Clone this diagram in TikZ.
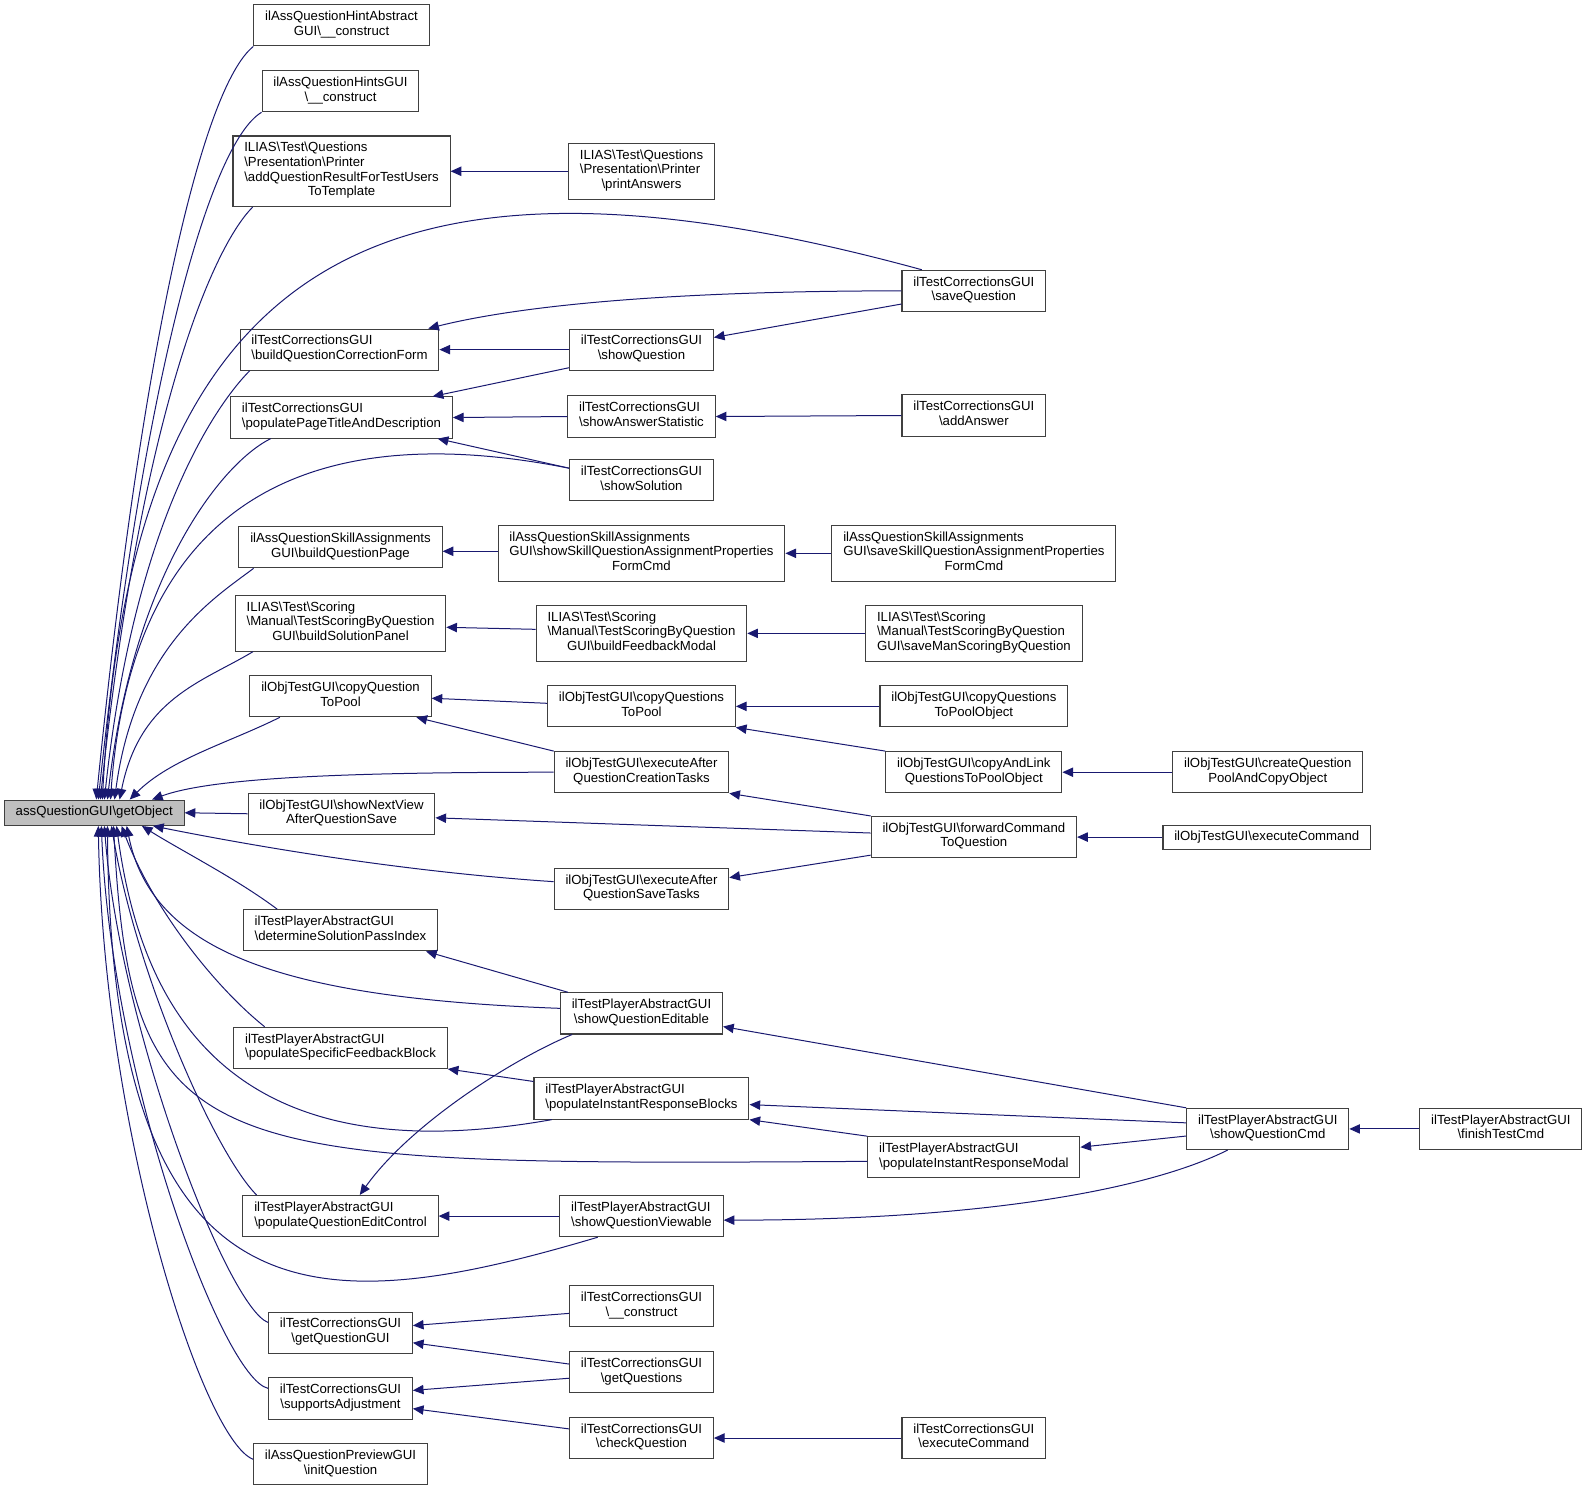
\documentclass[tikz,border=0pt]{standalone}
\usepackage{fontspec}
\setmainfont{Liberation Sans}
\usetikzlibrary{arrows.meta,calc}
\definecolor{edgeblue}{HTML}{191970}
\definecolor{rootgray}{HTML}{BFBFBF}
\newcommand{\bsl}{\textbackslash}
\newcommand{\lastln}[1]{\hspace*{\fill}#1\hspace*{\fill}}

\begin{document}
\begin{tikzpicture}[
  x=0.76pt, y=-0.76pt,
  fn/.style={draw=black!75, line width=0.8pt, fill=white, align=left,
    inner xsep=8.5pt, inner ysep=4.7pt, font=\fontsize{9.9}{11}\selectfont,
    execute at begin node=\strut, execute at end node=\strut},
  cur/.style={fn, fill=rootgray, inner ysep=4pt},
  call/.style={draw=edgeblue, line width=0.75pt, {Triangle[length=8pt,width=7pt]}-},
]
  \useasboundingbox (0,0) rectangle (1568,1471);
  % --- the function whose callers are shown ---
  \node[cur] (getobj) at (93,802) {assQuestionGUI\bsl getObject};
  % --- first column of callers ---
  \node[fn] (hintabs) at (337,25) {ilAssQuestionHintAbstract\\\lastln{GUI\bsl\_\_construct}};
  \node[fn] (hints) at (336,90) {ilAssQuestionHintsGUI\\\lastln{\bsl\_\_construct}};
  \node[fn] (addres) at (337,169) {ILIAS\bsl Test\bsl Questions\\\bsl Presentation\bsl Printer\\\bsl addQuestionResultForTestUsers\\\lastln{ToTemplate}};
  \node[fn] (buildform) at (335,345) {ilTestCorrectionsGUI\\\lastln{\bsl buildQuestionCorrectionForm}};
  \node[fn] (pagetitle) at (337,412) {ilTestCorrectionsGUI\\\lastln{\bsl populatePageTitleAndDescription}};
  \node[fn] (skillpage) at (336,540) {ilAssQuestionSkillAssignments\\\lastln{GUI\bsl buildQuestionPage}};
  \node[fn] (solpanel) at (336,615) {ILIAS\bsl Test\bsl Scoring\\\bsl Manual\bsl TestScoringByQuestion\\\lastln{GUI\bsl buildSolutionPanel}};
  \node[fn] (copyq) at (336,687) {ilObjTestGUI\bsl copyQuestion\\\lastln{ToPool}};
  \node[fn] (nextview) at (337,803) {ilObjTestGUI\bsl showNextView\\\lastln{AfterQuestionSave}};
  \node[fn] (passidx) at (336,918) {ilTestPlayerAbstractGUI\\\lastln{\bsl determineSolutionPassIndex}};
  \node[fn] (specfb) at (336,1034) {ilTestPlayerAbstractGUI\\\lastln{\bsl populateSpecificFeedbackBlock}};
  \node[fn] (editctl) at (336,1200) {ilTestPlayerAbstractGUI\\\lastln{\bsl populateQuestionEditControl}};
  \node[fn] (getqgui) at (336,1315) {ilTestCorrectionsGUI\\\lastln{\bsl getQuestionGUI}};
  \node[fn] (supadj) at (336,1380) {ilTestCorrectionsGUI\\\lastln{\bsl supportsAdjustment}};
  \node[fn] (initq) at (336,1445) {ilAssQuestionPreviewGUI\\\lastln{\bsl initQuestion}};
  % --- second column ---
  \node[fn] (printans) at (633,169) {ILIAS\bsl Test\bsl Questions\\\bsl Presentation\bsl Printer\\\lastln{\bsl printAnswers}};
  \node[fn] (showq) at (633,345) {ilTestCorrectionsGUI\\\lastln{\bsl showQuestion}};
  \node[fn] (ansstat) at (633,411) {ilTestCorrectionsGUI\\\lastln{\bsl showAnswerStatistic}};
  \node[fn] (showsol) at (633,474) {ilTestCorrectionsGUI\\\lastln{\bsl showSolution}};
  \node[fn] (skillprops) at (633,546) {ilAssQuestionSkillAssignments\\GUI\bsl showSkillQuestionAssignmentProperties\\\lastln{FormCmd}};
  \node[fn] (fbmodal) at (633,625) {ILIAS\bsl Test\bsl Scoring\\\bsl Manual\bsl TestScoringByQuestion\\\lastln{GUI\bsl buildFeedbackModal}};
  \node[fn] (copyqs) at (633,697) {ilObjTestGUI\bsl copyQuestions\\\lastln{ToPool}};
  \node[fn] (aftercreate) at (633,762) {ilObjTestGUI\bsl executeAfter\\\lastln{QuestionCreationTasks}};
  \node[fn] (aftersave) at (633,877) {ilObjTestGUI\bsl executeAfter\\\lastln{QuestionSaveTasks}};
  \node[fn] (editable) at (633,1000) {ilTestPlayerAbstractGUI\\\lastln{\bsl showQuestionEditable}};
  \node[fn] (irblocks) at (633,1084) {ilTestPlayerAbstractGUI\\\lastln{\bsl populateInstantResponseBlocks}};
  \node[fn] (viewable) at (633,1200) {ilTestPlayerAbstractGUI\\\lastln{\bsl showQuestionViewable}};
  \node[fn] (corrctor) at (633,1289) {ilTestCorrectionsGUI\\\lastln{\bsl\_\_construct}};
  \node[fn] (getqs) at (633,1354) {ilTestCorrectionsGUI\\\lastln{\bsl getQuestions}};
  \node[fn] (checkq) at (633,1419) {ilTestCorrectionsGUI\\\lastln{\bsl checkQuestion}};
  % --- third column ---
  \node[fn] (saveq) at (961,287) {ilTestCorrectionsGUI\\\lastln{\bsl saveQuestion}};
  \node[fn] (addans) at (961,410) {ilTestCorrectionsGUI\\\lastln{\bsl addAnswer}};
  \node[fn] (saveskill) at (961,546) {ilAssQuestionSkillAssignments\\GUI\bsl saveSkillQuestionAssignmentProperties\\\lastln{FormCmd}};
  \node[fn] (savescore) at (961,625) {ILIAS\bsl Test\bsl Scoring\\\bsl Manual\bsl TestScoringByQuestion\\\lastln{GUI\bsl saveManScoringByQuestion}};
  \node[fn] (copypool) at (961,697) {ilObjTestGUI\bsl copyQuestions\\\lastln{ToPoolObject}};
  \node[fn] (copylink) at (961,762) {ilObjTestGUI\bsl copyAndLink\\\lastln{QuestionsToPoolObject}};
  \node[fn] (fwdcmd) at (961,826) {ilObjTestGUI\bsl forwardCommand\\\lastln{ToQuestion}};
  \node[fn] (irmodal) at (961,1142) {ilTestPlayerAbstractGUI\\\lastln{\bsl populateInstantResponseModal}};
  \node[fn] (corrcmd) at (961,1419) {ilTestCorrectionsGUI\\\lastln{\bsl executeCommand}};
  % --- fourth and fifth column ---
  \node[fn] (createpool) at (1251,762) {ilObjTestGUI\bsl createQuestion\\\lastln{PoolAndCopyObject}};
  \node[fn, inner ysep=3.5pt] (execcmd) at (1250,826) {ilObjTestGUI\bsl executeCommand};
  \node[fn] (showqcmd) at (1251,1114) {ilTestPlayerAbstractGUI\\\lastln{\bsl showQuestionCmd}};
  \node[fn] (finish) at (1481,1114) {ilTestPlayerAbstractGUI\\\lastln{\bsl finishTestCmd}};

  % --- direct callers of getObject, leaving over its top ---
  \draw[call] ($(getobj.north)+(2,0)$) .. controls +(45,-450) and +(-50,40) .. (hintabs.south west);
  \draw[call] ($(getobj.north)+(4,0)$) .. controls +(45,-420) and +(-50,30) .. (hints.south west);
  \draw[call] ($(getobj.north)+(6,0)$) .. controls +(40,-380) and +(-40,40) .. ($(addres.south west)+(20,0)$);
  \draw[call] ($(getobj.north)+(8,0)$) .. controls +(29,-540) and +(-530,-145) .. ($(saveq.north west)+(20,0)$);
  \draw[call] ($(getobj.north)+(10,0)$) .. controls +(30,-280) and +(-30,30) .. ($(buildform.south west)+(10,0)$);
  \draw[call] ($(getobj.north)+(13,0)$) .. controls +(25,-220) and +(-50,25) .. ($(pagetitle.south west)+(40,0)$);
  \draw[call] ($(getobj.north)+(16,0)$) .. controls +(21,-290) and +(-262,-52) .. ($(showsol.west)+(0,-12)$);
  \draw[call] ($(getobj.north)+(20,0)$) .. controls +(20,-150) and +(-40,30) .. ($(skillpage.south west)+(15,0)$);
  \draw[call] ($(getobj.north)+(25,0)$) .. controls +(20,-100) and +(-50,30) .. ($(solpanel.south west)+(18,0)$);
  \draw[call] ($(getobj.north)+(35,0)$) .. controls +(40,-40) and +(-50,25) .. ($(copyq.south west)+(30,0)$);
  \draw[call] ($(getobj.north)+(57,0)$) .. controls +(60,-22) and +(-200,0) .. (aftercreate.west);
  \draw[call] (getobj.east) -- (nextview.west);
  % --- direct callers of getObject, leaving under its bottom ---
  \draw[call] ($(getobj.south)+(58,0)$) .. controls +(100,20) and +(-150,-10) .. ($(aftersave.west)+(0,-7)$);
  \draw[call] ($(getobj.south)+(47,0)$) .. controls +(40,25) and +(-40,-30) .. ($(passidx.north west)+(34,0)$);
  \draw[call] ($(getobj.south)+(32,0)$) .. controls +(25,125) and +(-272,-10) .. ($(editable.west)+(0,-5)$);
  \draw[call] ($(getobj.south)+(27,0)$) .. controls +(30,80) and +(-50,-40) .. ($(specfb.north west)+(31,0)$);
  \draw[call] ($(getobj.south)+(22,0)$) .. controls +(25,185) and +(-315,56) .. ($(irblocks.south west)+(18,0)$);
  \draw[call] ($(getobj.south)+(19,0)$) .. controls +(18,335) and +(-658,4) .. ($(irmodal.west)+(0,4)$);
  \draw[call] ($(getobj.south)+(17,0)$) .. controls +(25,150) and +(-40,-40) .. ($(editctl.north west)+(14,0)$);
  \draw[call] ($(getobj.south)+(13,0)$) .. controls +(4,505) and +(-270,80) .. ($(viewable.south west)+(38,0)$);
  \draw[call] ($(getobj.south)+(10,0)$) .. controls +(15,200) and +(-40,-15) .. ($(getqgui.west)+(0,-10)$);
  \draw[call] ($(getobj.south)+(7,0)$) .. controls +(10,250) and +(-45,-10) .. ($(supadj.west)+(0,-10)$);
  \draw[call] ($(getobj.south)+(4,0)$) .. controls +(5,300) and +(-50,-20) .. ($(initq.west)+(0,-5)$);
  % --- first column <- second column ---
  \draw[call] (addres.east) -- (printans.west);
  \draw[call] (buildform.east) -- (showq.west);
  \draw[call] ($(buildform.north east)+(-11,0)$) .. controls +(80,-20) and +(-250,0) .. (saveq.west);
  \draw[call] ($(pagetitle.north east)+(-20,0)$) -- ($(showq.south west)+(0,-3)$);
  \draw[call] (pagetitle.east) -- (ansstat.west);
  \draw[call] ($(pagetitle.south east)+(-15,0)$) -- ($(showsol.west)+(0,-12)$);
  \draw[call] ($(skillpage.east)+(0,4)$) -- ($(skillprops.west)+(0,-2)$);
  \draw[call] ($(solpanel.east)+(0,4)$) -- ($(fbmodal.west)+(0,-4)$);
  \draw[call] ($(copyq.east)+(0,2)$) -- ($(copyqs.west)+(0,-3)$);
  \draw[call] ($(copyq.south east)+(-15,0)$) -- (aftercreate.north west);
  \draw[call] ($(nextview.east)+(0,4)$) -- ($(fwdcmd.west)+(0,-4)$);
  \draw[call] ($(passidx.south east)+(-12,0)$) -- ($(editable.north west)+(8,0)$);
  \draw[call] (specfb.south east) -- ($(irblocks.north west)+(0,4)$);
  \draw[call] ($(editctl.north)+(19,0)$) .. controls +(50,-70) and +(-60,25) .. ($(editable.south west)+(12,0)$);
  \draw[call] (editctl.east) -- (viewable.west);
  \draw[call] ($(getqgui.east)+(0,-7)$) -- ($(corrctor.west)+(0,7)$);
  \draw[call] ($(getqgui.east)+(0,10)$) -- ($(getqs.west)+(0,-8)$);
  \draw[call] ($(supadj.east)+(0,-8)$) -- ($(getqs.west)+(0,6)$);
  \draw[call] ($(supadj.east)+(0,10)$) -- ($(checkq.west)+(0,-9)$);
  % --- second column <- third column ---
  \draw[call] ($(showq.east)+(0,-12)$) -- ($(saveq.west)+(0,13)$);
  \draw[call] (ansstat.east) -- (addans.west);
  \draw[call] (skillprops.east) -- (saveskill.west);
  \draw[call] (fbmodal.east) -- (savescore.west);
  \draw[call] (copyqs.east) -- (copypool.west);
  \draw[call] (copyqs.south east) -- (copylink.north west);
  \draw[call] (aftercreate.south east) -- (fwdcmd.north west);
  \draw[call] ($(aftersave.east)+(0,-11)$) -- ($(fwdcmd.south west)+(0,-3)$);
  \draw[call] ($(editable.east)+(0,13)$) -- (showqcmd.north west);
  \draw[call] ($(irblocks.east)+(0,6)$) -- ($(showqcmd.west)+(0,-6)$);
  \draw[call] (irblocks.south east) -- (irmodal.north west);
  \draw[call] ($(viewable.east)+(0,4)$) .. controls +(250,0) and +(-80,40) .. ($(showqcmd.south west)+(41,0)$);
  \draw[call] (checkq.east) -- (corrcmd.west);
  % --- third column <- fourth and fifth ---
  \draw[call] (copylink.east) -- (createpool.west);
  \draw[call] (fwdcmd.east) -- (execcmd.west);
  \draw[call] ($(irmodal.east)+(0,-10)$) -- ($(showqcmd.west)+(0,7)$);
  \draw[call] (showqcmd.east) -- (finish.west);
\end{tikzpicture}
\end{document}
